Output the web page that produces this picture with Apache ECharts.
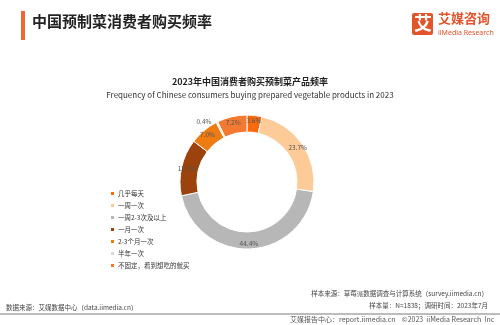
<!DOCTYPE html>
<html>
<head>
<meta charset="utf-8">
<script src="https://cdn.jsdelivr.net/npm/echarts@6/dist/echarts.min.js"></script>
<style>
  html, body { margin: 0; padding: 0; background: #fff; }
  #main { width: 500px; height: 325px; }
</style>
</head>
<body>
<div id="main"></div>
<script>
// 分类与数值（%）
var categories = ['几乎每天', '一周一次', '一周2-3次及以上', '一月一次', '2-3个月一次', '半年一次', '不固定，看到想吃的就买'];
var values = [3.6, 23.7, 44.4, 13.7, 7.0, 0.4, 7.2];
var colors = ['#F96A0E', '#FDCB98', '#B7B7B7', '#9C420C', '#EE7C12', '#D9D9D9', '#F47A32'];

var cjk = '"Noto Sans CJK SC", "Noto Sans", sans-serif';

var chart = echarts.init(document.getElementById('main'));

var pieData = categories.map(function (c, i) {
    var item = { name: c, value: values[i] };
    // 太小的扇区标签放在外侧
    if (values[i] < 1) {
        item.label = { position: 'outside', color: '#555' };
        item.labelLine = { show: false, length: 1, length2: 0 };
    }
    return item;
});

var option = {
    backgroundColor: '#fff',
    color: colors,
    title: {
        text: '2023年中国消费者购买预制菜产品频率',
        subtext: 'Frequency of Chinese consumers buying prepared vegetable products in 2023',
        left: 'center',
        top: 72,
        itemGap: 5,
        textStyle: { fontFamily: cjk, fontSize: 9, fontWeight: 'bold', color: '#222' },
        subtextStyle: { fontFamily: cjk, fontSize: 8, color: '#333' }
    },
    legend: {
        orient: 'vertical',
        left: 104,
        top: 185,
        itemWidth: 5,
        itemHeight: 5,
        itemGap: 5,
        icon: 'rect',
        data: categories,
        textStyle: { fontFamily: cjk, fontSize: 6.5, color: '#333', padding: [0, 0, 0, -2] }
    },
    series: [{
        name: '购买频率',
        type: 'pie',
        center: [247, 182],
        radius: [50, 67],
        startAngle: 90,
        clockwise: true,
        avoidLabelOverlap: false,
        itemStyle: { borderColor: '#fff', borderWidth: 1 },
        label: {
            position: 'inside',
            formatter: function (p) { return p.value.toFixed(1) + '%'; },
            fontFamily: cjk,
            fontSize: 6.5,
            color: '#555'
        },
        labelLine: { show: false },
        emphasis: { disabled: true },
        data: pieData
    }],
    graphic: [
        // 标题栏
        { type: 'rect', left: 21, top: 11, shape: { width: 4, height: 29 }, style: { fill: '#EE6A33' } },
        { type: 'text', left: 32, top: 14, style: { text: '中国预制菜消费者购买频率', font: 'bold 15px "Noto Sans CJK SC"', fill: '#222' } },
        // logo
        { type: 'rect', left: 412, top: 13, shape: { width: 21, height: 22, r: 2 }, style: { fill: '#E2552C' } },
        { type: 'text', left: 414, top: 14, style: { text: '艾', font: 'bold 18px "Noto Sans CJK SC"', fill: '#fff' } },
        { type: 'text', left: 438, top: 12, style: { text: '艾媒咨询', font: 'bold 13px "Noto Sans CJK SC"', fill: '#E2552C' } },
        { type: 'text', left: 438, top: 29, style: { text: 'iiMedia Research', font: '7px "Noto Sans"', fill: '#E2552C' } },
        // 底部说明
        { type: 'text', right: 12, top: 290, style: { text: '样本来源：草莓派数据调查与计算系统（survey.iimedia.cn）', font: '6.5px "Noto Sans CJK SC"', fill: '#444' } },
        { type: 'text', right: 12, top: 302, style: { text: '样本量：N=1838；调研时间：2023年7月', font: '6.5px "Noto Sans CJK SC"', fill: '#444' } },
        { type: 'text', left: 6, top: 304, style: { text: '数据来源：艾媒数据中心（data.iimedia.cn）', font: '6.5px "Noto Sans CJK SC"', fill: '#444' } },
        { type: 'rect', left: 0, top: 313, shape: { width: 500, height: 2 }, style: { fill: '#BDBDBD' } },
        { type: 'text', left: 290, top: 316, style: { text: '艾媒报告中心：report.iimedia.cn    ©2023  iiMedia Research  Inc', font: '7px "Noto Sans CJK SC"', fill: '#555' } }
    ]
};

chart.setOption(option);
</script>
</body>
</html>
